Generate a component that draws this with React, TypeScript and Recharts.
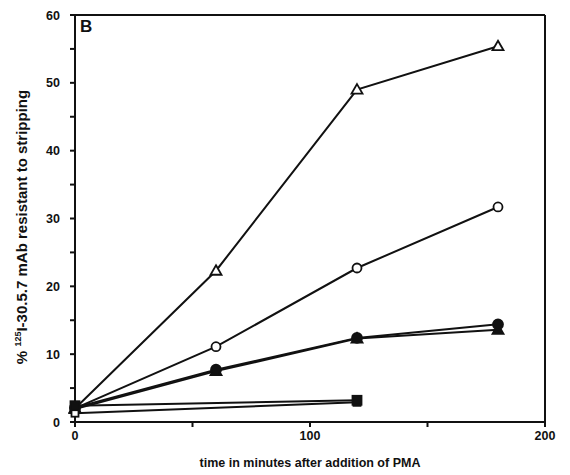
import { Label, Line, LineChart, ReferenceLine, XAxis, YAxis } from "recharts"

const times = [0, 60, 120, 180]
const openTriangle = [2.0, 22.3, 49.0, 55.4]
const openCircle = [2.0, 11.1, 22.7, 31.7]
const filledCircle = [2.1, 7.7, 12.4, 14.4]
const filledTriangle = [1.9, 7.5, 12.3, 13.6]

const squareTimes = [0, 120]
const filledSquare = [2.4, 3.2]
const openSquare = [1.3, 2.9]

const xTicks = [0, 50, 100, 150, 200]
const xLabels = [0, 100, 200]
const yTicks = [0, 5, 10, 15, 20, 25, 30, 35, 40, 45, 50, 55, 60]
const yLabels = [0, 10, 20, 30, 40, 50, 60]

const ink = "#111"
const font = "'Liberation Sans', Arial, sans-serif"

const toRows = (xs: number[], ys: number[]) => xs.map((t, i) => ({ t, v: ys[i] }))

type DotProps = { cx?: number; cy?: number; index?: number }

const triangleDot = (filled: boolean) => (p: DotProps) => {
    const { cx = 0, cy = 0 } = p
    return (
        <path
            key={`tri-${filled}-${p.index}`}
            d={`M${cx},${cy - 5.5} L${cx + 5.5},${cy + 4} L${cx - 5.5},${cy + 4} Z`}
            fill={filled ? ink : "#fff"}
            stroke={ink}
            strokeWidth={1.8}
        />
    )
}

const circleDot = (filled: boolean) => (p: DotProps) => {
    const { cx = 0, cy = 0 } = p
    return (
        <circle
            key={`cir-${filled}-${p.index}`}
            cx={cx}
            cy={cy}
            r={filled ? 5 : 4.5}
            fill={filled ? ink : "#fff"}
            stroke={ink}
            strokeWidth={1.8}
        />
    )
}

const squareDot = (filled: boolean) => (p: DotProps) => {
    const { cx = 0, cy = 0 } = p
    const s = filled ? 9 : 7
    return (
        <rect
            key={`sq-${filled}-${p.index}`}
            x={cx - s / 2}
            y={cy - s / 2}
            width={s}
            height={s}
            fill={filled ? ink : "#fff"}
            stroke={ink}
            strokeWidth={1.8}
        />
    )
}

const XTick = (props: any) => {
    const { x, y, payload } = props
    if (!xLabels.includes(payload.value)) return <g />
    return (
        <text x={x} y={y} dy={10} textAnchor="middle" fontFamily={font} fontWeight="bold" fontSize={12.5} fill={ink}>
            {payload.value}
        </text>
    )
}

const YTick = (props: any) => {
    const { x, y, payload } = props
    if (!yLabels.includes(payload.value)) return <g />
    return (
        <text x={x} y={y} dy={4.5} textAnchor="end" fontFamily={font} fontWeight="bold" fontSize={12.5} fill={ink}>
            {payload.value}
        </text>
    )
}

const YTitle = () => (
    <text
        transform="translate(27,227) rotate(-90)"
        textAnchor="middle"
        fontFamily={font}
        fontWeight="bold"
        fontSize={15}
        fill={ink}
    >
        <tspan>% </tspan>
        <tspan dy={-6} fontSize={9}>125</tspan>
        <tspan dy={6}>I-30.5.7 mAb resistant to stripping</tspan>
    </text>
)

export default function App() {
    const series = [
        { name: "openTriangle", data: toRows(times, openTriangle), dot: triangleDot(false) },
        { name: "openCircle", data: toRows(times, openCircle), dot: circleDot(false) },
        { name: "filledTriangle", data: toRows(times, filledTriangle), dot: triangleDot(true) },
        { name: "filledCircle", data: toRows(times, filledCircle), dot: circleDot(true) },
        { name: "openSquare", data: toRows(squareTimes, openSquare), dot: squareDot(false) },
        { name: "filledSquare", data: toRows(squareTimes, filledSquare), dot: squareDot(true) },
    ]

    return (
        <div style={{ position: "absolute", left: 0, top: 0, width: 570, height: 475, background: "#fff" }}>
            <LineChart width={570} height={475} margin={{ top: 15, right: 25, bottom: 0, left: 0 }}>
                <XAxis
                    dataKey="t"
                    type="number"
                    domain={[0, 200]}
                    ticks={xTicks}
                    allowDuplicatedCategory={false}
                    height={53}
                    tick={<XTick />}
                    tickSize={5}
                    tickMargin={3}
                    axisLine={{ stroke: ink, strokeWidth: 2 }}
                    tickLine={{ stroke: ink, strokeWidth: 2 }}
                >
                    <Label
                        value="time in minutes after addition of PMA"
                        position="insideBottom"
                        offset={8}
                        style={{ fontFamily: font, fontWeight: "bold", fontSize: 12.5, fill: ink }}
                    />
                </XAxis>
                <YAxis
                    type="number"
                    domain={[0, 60]}
                    ticks={yTicks}
                    width={75}
                    tick={<YTick />}
                    tickSize={5}
                    tickMargin={10}
                    axisLine={{ stroke: ink, strokeWidth: 2 }}
                    tickLine={{ stroke: ink, strokeWidth: 2 }}
                    label={<YTitle />}
                />
                <ReferenceLine y={60} stroke={ink} strokeWidth={2} />
                <ReferenceLine x={200} stroke={ink} strokeWidth={2} />
                {series.map((s) => (
                    <Line
                        key={s.name}
                        data={s.data}
                        dataKey="v"
                        type="linear"
                        stroke={ink}
                        strokeWidth={2}
                        dot={s.dot}
                        activeDot={false}
                        isAnimationActive={false}
                    />
                ))}
            </LineChart>
            <div
                style={{
                    position: "absolute",
                    left: 80,
                    top: 17,
                    fontFamily: font,
                    fontWeight: "bold",
                    fontSize: 17,
                    color: ink,
                    lineHeight: "20px",
                }}
            >
                B
            </div>
        </div>
    )
}
